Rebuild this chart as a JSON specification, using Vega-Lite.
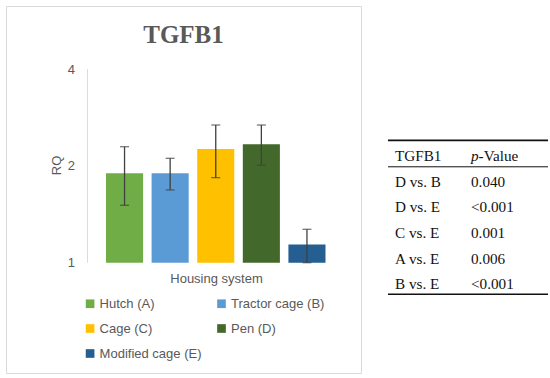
{
  "$schema": "https://vega.github.io/schema/vega-lite/v6.json",
  "padding": 5,
  "spacing": 25,
  "background": "white",
  "config": {"font": "Liberation Sans"},
  "hconcat": [
    {
      "width": 355,
      "height": 367,
      "view": {"stroke": "#d9d9d9", "strokeWidth": 1},
      "title": {"text": "TGFB1", "font": "Liberation Serif", "fontSize": 25, "fontWeight": "bold", "color": "#595959", "anchor": "middle", "frame": "group", "offset": -62, "baseline": "alphabetic"},
      "data": {"values": [
        {"system": "Hutch (A)", "rq": 1.896, "lo": 1.508, "hi": 2.294},
        {"system": "Tractor cage (B)", "rq": 1.896, "lo": 1.683, "hi": 2.111},
        {"system": "Cage (C)", "rq": 2.256, "lo": 1.838, "hi": 2.679},
        {"system": "Pen (D)", "rq": 2.333, "lo": 2.008, "hi": 2.679},
        {"system": "Modified cage (E)", "rq": 1.138, "lo": 1.0, "hi": 1.27}
      ]},
      "layer": [
        {
          "mark": {"type": "bar"},
          "encoding": {
            "x": {"field": "system", "type": "nominal", "sort": null,
              "scale": {"domain": ["Hutch (A)", "Tractor cage (B)", "Cage (C)", "Pen (D)", "Modified cage (E)"], "range": [77.2, 342.3], "paddingInner": 0.187, "paddingOuter": 0.5},
              "axis": {"title": "Housing system", "labels": false, "ticks": false, "domain": false, "grid": false, "titleFont": "Liberation Sans", "titleFontSize": 13, "titleFontWeight": "normal", "titleColor": "#595959", "titleX": 210, "titleY": -95, "titleBaseline": "middle", "titleAlign": "center"}},
            "y": {"field": "rq", "type": "quantitative",
              "scale": {"type": "log", "base": 2, "domain": [0.454, 6.28], "nice": false, "zero": false},
              "axis": {"title": "RQ", "values": [1, 2, 4], "format": "~g", "domain": false, "ticks": false, "grid": false, "offset": -70.5, "labelPadding": 2, "labelFont": "Liberation Sans", "labelFontSize": 13, "labelColor": "#595959", "titleFont": "Liberation Sans", "titleFontSize": 13, "titleFontWeight": "normal", "titleColor": "#595959", "titleX": -20.5, "titleY": 159, "titleBaseline": "middle", "titleAlign": "center", "titleAngle": 270}},
            "y2": {"datum": 1},
            "color": {"field": "system", "type": "nominal",
              "scale": {"domain": ["Hutch (A)", "Tractor cage (B)", "Cage (C)", "Pen (D)", "Modified cage (E)"], "range": ["#70ad47", "#5b9bd5", "#ffc000", "#43682b", "#255e91"]},
              "legend": {"title": null, "orient": "none", "legendX": 77.6, "legendY": 291, "columns": 2, "direction": "horizontal", "symbolType": "square", "symbolSize": 75, "symbolStrokeWidth": 0, "labelFont": "Liberation Sans", "labelFontSize": 13, "labelColor": "#595959", "labelOffset": 3, "columnPadding": 13.4, "rowPadding": 11, "labelLimit": 200}}
          }
        },
        {
          "transform": [{"filter": "datum.system == 'Hutch (A)'"}],
          "mark": {"type": "rule", "color": "#d6dce5", "strokeWidth": 1},
          "encoding": {
            "x": {"datum": "Hutch (A)", "bandPosition": -0.5},
            "y": {"datum": 1},
            "y2": {"datum": 4}
          }
        },
        {
          "mark": {"type": "rule", "color": "#404040", "strokeWidth": 1.3},
          "encoding": {
            "x": {"field": "system", "type": "nominal", "sort": null},
            "y": {"field": "lo", "type": "quantitative", "title": "RQ"},
            "y2": {"field": "hi"}
          }
        },
        {
          "mark": {"type": "tick", "color": "#404040", "thickness": 1.3, "size": 9},
          "encoding": {
            "x": {"field": "system", "type": "nominal", "sort": null},
            "y": {"field": "hi", "type": "quantitative", "title": "RQ"}
          }
        },
        {
          "mark": {"type": "tick", "color": "#404040", "thickness": 1.3, "size": 9},
          "encoding": {
            "x": {"field": "system", "type": "nominal", "sort": null},
            "y": {"field": "lo", "type": "quantitative", "title": "RQ"}
          }
        }
      ]
    },
    {
      "width": 160,
      "height": 367,
      "view": {"stroke": null},
      "data": {"values": [
        {"comparison": "D vs. B", "p": "0.040", "row": 1},
        {"comparison": "D vs. E", "p": "<0.001", "row": 2},
        {"comparison": "C vs. E", "p": "0.001", "row": 3},
        {"comparison": "A vs. E", "p": "0.006", "row": 4},
        {"comparison": "B vs. E", "p": "<0.001", "row": 5}
      ]},
      "layer": [
        {
          "transform": [{"filter": "datum.row == 1"}],
          "mark": {"type": "rule", "color": "#111111", "strokeWidth": 1.6},
          "encoding": {
            "x": {"datum": -0.0921, "type": "quantitative", "scale": {"domain": [-0.0921, 2.0132], "nice": false, "zero": false}, "axis": null},
            "x2": {"datum": 2.0132},
            "y": {"datum": -0.61, "type": "quantitative", "scale": {"domain": [-5.837, 8.444], "reverse": true, "nice": false, "zero": false}, "axis": null}
          }
        },
        {
          "transform": [{"filter": "datum.row == 1"}],
          "mark": {"type": "rule", "color": "#111111", "strokeWidth": 1},
          "encoding": {
            "x": {"datum": -0.0921, "type": "quantitative"},
            "x2": {"datum": 2.0132},
            "y": {"datum": 0.42, "type": "quantitative"}
          }
        },
        {
          "transform": [{"filter": "datum.row == 1"}],
          "mark": {"type": "rule", "color": "#111111", "strokeWidth": 1.4},
          "encoding": {
            "x": {"datum": -0.0921, "type": "quantitative"},
            "x2": {"datum": 2.0132},
            "y": {"datum": 5.38, "type": "quantitative"}
          }
        },
        {
          "transform": [{"filter": "datum.row == 1"}],
          "mark": {"type": "text", "align": "left", "baseline": "middle", "font": "Liberation Serif", "fontSize": 15.2, "color": "#111111"},
          "encoding": {
            "x": {"datum": 0, "type": "quantitative"},
            "y": {"datum": 0, "type": "quantitative"},
            "text": {"value": "TGFB1"}
          }
        },
        {
          "transform": [{"filter": "datum.row == 1"}],
          "mark": {"type": "text", "align": "left", "baseline": "middle", "font": "Liberation Serif", "fontSize": 15.2, "fontStyle": "italic", "color": "#111111"},
          "encoding": {
            "x": {"datum": 1, "type": "quantitative"},
            "y": {"datum": 0, "type": "quantitative"},
            "text": {"value": "p"}
          }
        },
        {
          "transform": [{"filter": "datum.row == 1"}],
          "mark": {"type": "text", "align": "left", "baseline": "middle", "font": "Liberation Serif", "fontSize": 15.2, "color": "#111111", "dx": 7.6},
          "encoding": {
            "x": {"datum": 1, "type": "quantitative"},
            "y": {"datum": 0, "type": "quantitative"},
            "text": {"value": "-Value"}
          }
        },
        {
          "mark": {"type": "text", "align": "left", "baseline": "middle", "font": "Liberation Serif", "fontSize": 15.2, "color": "#111111"},
          "encoding": {
            "x": {"datum": 0, "type": "quantitative"},
            "y": {"field": "row", "type": "quantitative"},
            "text": {"field": "comparison"}
          }
        },
        {
          "mark": {"type": "text", "align": "left", "baseline": "middle", "font": "Liberation Serif", "fontSize": 15.2, "color": "#111111"},
          "encoding": {
            "x": {"datum": 1, "type": "quantitative"},
            "y": {"field": "row", "type": "quantitative"},
            "text": {"field": "p"}
          }
        }
      ]
    }
  ]
}
